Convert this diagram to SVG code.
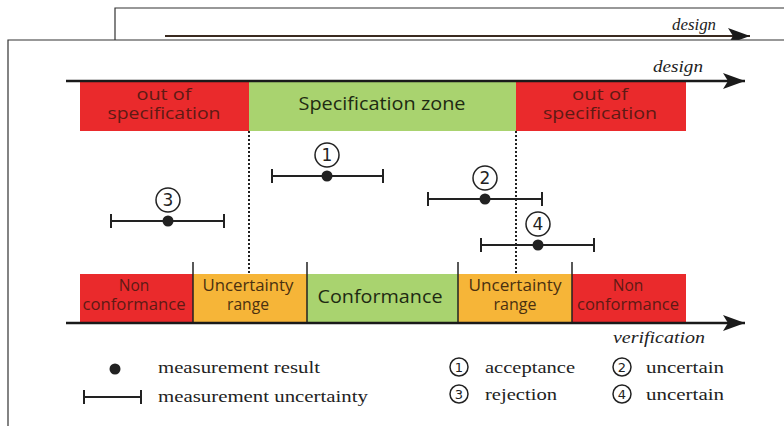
<svg xmlns="http://www.w3.org/2000/svg" width="784" height="426" viewBox="0 0 784 426">
<defs>
<marker id="ah" viewBox="0 0 22 16" refX="22" refY="8" markerWidth="22" markerHeight="16" markerUnits="userSpaceOnUse" orient="auto">
<path d="M0,0 L22,8 L0,16 L5,8 Z" fill="#1a1a1a"/>
</marker>
<style>
.frame{fill:none;stroke:#333;stroke-width:1.2}
.axis{stroke:#1a1a1a;stroke-width:2.5;fill:none}
.red{fill:#ea2a2c}
.green{fill:#a9d36f}
.orange{fill:#f6b538}
.lbl{font-family:"Open Sans","DejaVu Sans",sans-serif;text-anchor:middle}
.lr{fill:#5e1a14;font-size:16.5px}
.lg{fill:#1e2a12;font-size:19px}
.lo{fill:#4a3010;font-size:16.5px}
.sm{font-size:15.5px}
.it{font-family:"Liberation Serif",serif;font-style:italic;font-size:16px;fill:#222}
.leg{font-family:"Liberation Serif",serif;font-size:17px;fill:#222}
.sep{stroke:#222;stroke-width:1.5}
.dot{stroke:#222;stroke-width:2;stroke-dasharray:2,2}
.eb{stroke:#222;stroke-width:2;fill:none}
.pt{fill:#222}
.cn{fill:none;stroke:#222;stroke-width:1.5}
.cnt{font-family:"DejaVu Sans",sans-serif;font-size:17px;text-anchor:middle;fill:#222}
.cns{font-family:"DejaVu Sans",sans-serif;font-size:13px;text-anchor:middle;fill:#222}
</style>
</defs>
<rect width="784" height="426" fill="#fff"/>
<g id="back-frame">
<path class="frame" d="M115,40 L115,8 L784,8"/>
<line x1="165" y1="36" x2="750" y2="36" stroke="#3a2a20" stroke-width="2" marker-end="url(#ah)"/>
<text class="it" x="672" y="30" font-size="13px" textLength="44" lengthAdjust="spacingAndGlyphs">design</text>
</g>
<rect x="8" y="40" width="790" height="400" fill="#fff"/>
<g id="front-frame">
<path class="frame" d="M8,426 L8,40 L784,40"/>
</g>
<g id="design-bars">
<rect class="red" x="80" y="82" width="169" height="49"/>
<rect class="green" x="249" y="82" width="267" height="49"/>
<rect class="red" x="516" y="82" width="170" height="49"/>
<text class="lbl lr" x="164" y="100" textLength="55" lengthAdjust="spacingAndGlyphs">out of</text>
<text class="lbl lr" x="164" y="119" textLength="113" lengthAdjust="spacingAndGlyphs">specification</text>
<text class="lbl lg" x="382" y="110" textLength="167" lengthAdjust="spacingAndGlyphs">Specification zone</text>
<text class="lbl lr" x="600" y="100" textLength="56" lengthAdjust="spacingAndGlyphs">out of</text>
<text class="lbl lr" x="600" y="119" textLength="114" lengthAdjust="spacingAndGlyphs">specification</text>
</g>
<g id="verification-bars">
<rect class="red" x="80" y="274" width="113" height="48"/>
<rect class="orange" x="193" y="274" width="114" height="48"/>
<rect class="green" x="307" y="274" width="151" height="48"/>
<rect class="orange" x="458" y="274" width="114" height="48"/>
<rect class="red" x="572" y="274" width="114" height="48"/>
<text class="lbl lr sm" x="134" y="291">Non</text>
<text class="lbl lr sm" x="134" y="310" textLength="103" lengthAdjust="spacingAndGlyphs">conformance</text>
<text class="lbl lo sm" x="248" y="291" textLength="91" lengthAdjust="spacingAndGlyphs">Uncertainty</text>
<text class="lbl lo sm" x="248" y="310" textLength="42" lengthAdjust="spacingAndGlyphs">range</text>
<text class="lbl lg" x="380" y="303" textLength="125" lengthAdjust="spacingAndGlyphs">Conformance</text>
<text class="lbl lo sm" x="515" y="291" textLength="93" lengthAdjust="spacingAndGlyphs">Uncertainty</text>
<text class="lbl lo sm" x="515" y="310" textLength="43" lengthAdjust="spacingAndGlyphs">range</text>
<text class="lbl lr sm" x="628" y="291">Non</text>
<text class="lbl lr sm" x="628" y="310" textLength="102" lengthAdjust="spacingAndGlyphs">conformance</text>
</g>
<g id="connectors">
<line class="axis" x1="66" y1="81" x2="745" y2="81" marker-end="url(#ah)"/>
<line class="axis" x1="66" y1="323" x2="745" y2="323" marker-end="url(#ah)"/>
<line class="dot" x1="249" y1="131" x2="249" y2="274"/>
<line class="dot" x1="516" y1="131" x2="516" y2="274"/>
<line class="sep" x1="193" y1="262" x2="193" y2="322"/>
<line class="sep" x1="307" y1="262" x2="307" y2="322"/>
<line class="sep" x1="458" y1="262" x2="458" y2="322"/>
<line class="sep" x1="572" y1="262" x2="572" y2="322"/>
</g>
<text class="it" x="653" y="72" textLength="50" lengthAdjust="spacingAndGlyphs">design</text>
<text class="it" x="613" y="343" textLength="92" lengthAdjust="spacingAndGlyphs">verification</text>
<g id="m1">
<path class="eb" d="M272,169 V183 M272,176 H383 M383,169 V183"/>
<circle class="pt" cx="327" cy="176" r="5.5"/>
<circle class="cn" cx="327" cy="155" r="12"/>
<text class="cnt" x="327" y="161">1</text>
</g>
<g id="m2">
<path class="eb" d="M428,192 V206 M428,199 H542 M542,192 V206"/>
<circle class="pt" cx="485" cy="199" r="5.5"/>
<circle class="cn" cx="485" cy="178" r="12"/>
<text class="cnt" x="485" y="184">2</text>
</g>
<g id="m3">
<path class="eb" d="M111,214 V228 M111,221 H224 M224,214 V228"/>
<circle class="pt" cx="168" cy="221" r="5.5"/>
<circle class="cn" cx="168" cy="200" r="12"/>
<text class="cnt" x="168" y="206">3</text>
</g>
<g id="m4">
<path class="eb" d="M481,238 V252 M481,245 H594 M594,238 V252"/>
<circle class="pt" cx="538" cy="245" r="5.5"/>
<circle class="cn" cx="538" cy="224" r="12"/>
<text class="cnt" x="538" y="230">4</text>
</g>
<g id="legend">
<circle class="pt" cx="115" cy="369" r="5.5"/>
<text class="leg" x="158" y="373" textLength="162" lengthAdjust="spacingAndGlyphs">measurement result</text>
<path class="eb" d="M84,390 V404 M84,397 H141 M141,390 V404"/>
<text class="leg" x="158" y="402" textLength="210" lengthAdjust="spacingAndGlyphs">measurement uncertainty</text>
<circle class="cn" cx="459" cy="367" r="9"/>
<text class="cns" x="459" y="371.5">1</text>
<text class="leg" x="485" y="373" textLength="90" lengthAdjust="spacingAndGlyphs">acceptance</text>
<circle class="cn" cx="622" cy="367" r="9"/>
<text class="cns" x="622" y="371.5">2</text>
<text class="leg" x="646" y="373" textLength="78" lengthAdjust="spacingAndGlyphs">uncertain</text>
<circle class="cn" cx="459" cy="394" r="9"/>
<text class="cns" x="459" y="398.5">3</text>
<text class="leg" x="485" y="400" textLength="72" lengthAdjust="spacingAndGlyphs">rejection</text>
<circle class="cn" cx="622" cy="394" r="9"/>
<text class="cns" x="622" y="398.5">4</text>
<text class="leg" x="646" y="400" textLength="78" lengthAdjust="spacingAndGlyphs">uncertain</text>
</g>
</svg>
